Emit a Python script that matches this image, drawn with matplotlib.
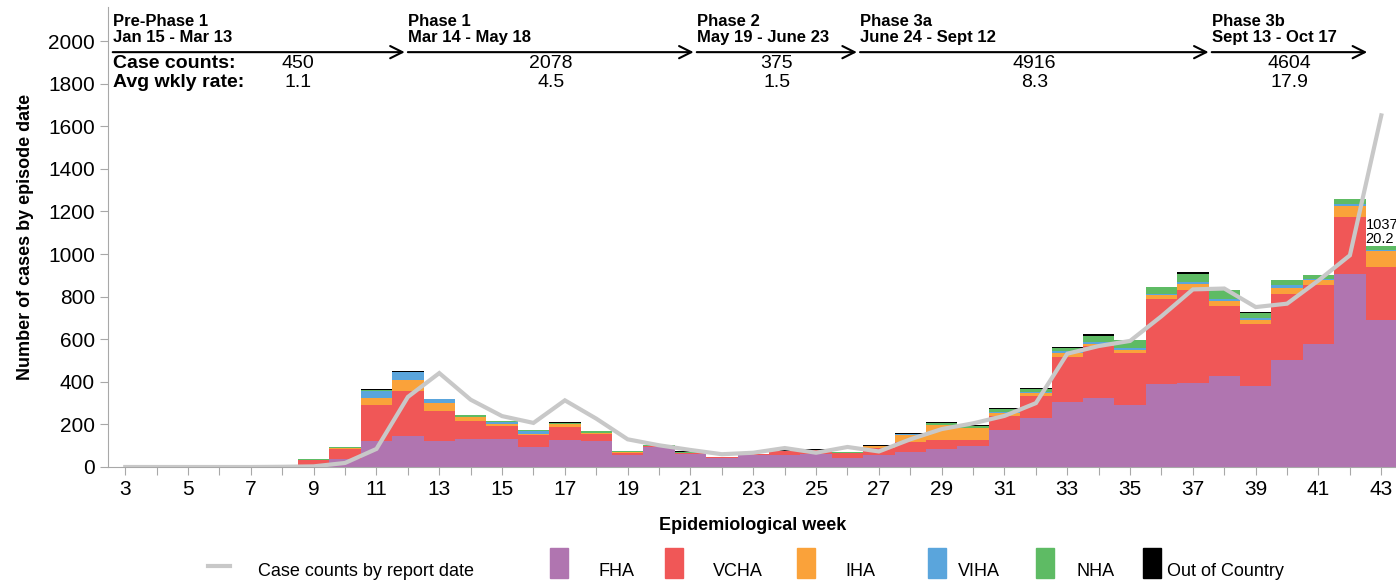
import matplotlib
matplotlib.use("Agg")
import matplotlib.pyplot as plt
from matplotlib.patches import Rectangle
from matplotlib.lines import Line2D
import numpy as np

# epidemiological weeks 3..43
weeks = list(range(3, 44))

fha = [1, 0, 1, 2, 2, 3, 8, 38, 122, 147, 121, 130, 130, 92, 125, 124, 55, 94, 60, 43, 56,
       58, 59, 44, 55, 72, 83, 99, 172, 230, 305, 322, 290, 388, 394, 426, 382, 504, 579, 908, 690]
vcha = [0, 0, 0, 0, 1, 1, 24, 47, 168, 208, 142, 85, 61, 58, 63, 31, 13, 3, 6, 4, 3,
        16, 19, 22, 36, 44, 42, 27, 69, 105, 211, 244, 247, 399, 435, 330, 288, 310, 277, 266, 250]
iha = [0, 0, 0, 0, 0, 0, 2, 2, 34, 55, 38, 18, 12, 6, 12, 6, 2, 1, 1, 0, 1,
       1, 2, 1, 8, 34, 70, 56, 14, 13, 20, 13, 11, 23, 28, 22, 22, 27, 20, 52, 72]
viha = [0, 0, 0, 0, 0, 0, 1, 4, 31, 34, 16, 4, 6, 15, 4, 1, 0, 1, 0, 0, 0,
        1, 0, 0, 0, 3, 2, 2, 5, 2, 11, 6, 11, 3, 11, 9, 8, 13, 6, 8, 6]
nha = [0, 0, 0, 0, 0, 0, 1, 3, 8, 3, 3, 6, 6, 4, 4, 6, 4, 3, 3, 0, 2,
       1, 1, 2, 1, 4, 8, 8, 11, 16, 11, 30, 36, 31, 39, 42, 25, 23, 20, 23, 19]
ooc = [0, 0, 0, 0, 0, 0, 0, 0, 1, 6, 1, 1, 1, 1, 4, 1, 0, 1, 4, 0, 1,
       4, 4, 1, 5, 1, 5, 5, 5, 6, 6, 8, 1, 1, 8, 1, 1, 1, 1, 1, 1]

# case counts by report date
report = [0, 0, 0, 0, 0, 1, 3, 19, 85, 329, 441, 316, 239, 207, 313, 227, 130, 102, 80, 60, 67,
          89, 67, 94, 73, 130, 178, 205, 240, 300, 532, 568, 592, 708, 834, 838, 751, 767, 876, 994, 1651]

regions = ["FHA", "VCHA", "IHA", "VIHA", "NHA", "Out of Country"]
colors = ["#B075B0", "#F05757", "#FAA23A", "#5AA5DC", "#5EBB64", "#000000"]

phase_names = ["Pre-Phase 1", "Phase 1", "Phase 2", "Phase 3a", "Phase 3b"]
phase_dates = ["Jan 15 - Mar 13", "Mar 14 - May 18", "May 19 - June 23",
               "June 24 - Sept 12", "Sept 13 - Oct 17"]
phase_counts = ["450", "2078", "375", "4916", "4604"]
phase_rates = ["1.1", "4.5", "1.5", "8.3", "17.9"]
phase_start = [2.6, 12.0, 21.2, 26.4, 37.6]
phase_end = [11.9, 21.1, 26.3, 37.5, 42.55]

last_count = "1037"
last_rate = "20.2"

NARROW = ["Liberation Sans Narrow", "Liberation Sans", "DejaVu Sans"]
REG = ["Liberation Sans", "DejaVu Sans"]

W, H = 1396, 582
fig = plt.figure(figsize=(W / 100, H / 100), dpi=100)
ax = fig.add_axes([108 / W, 115 / H, 1289 / W, 460 / H])

bottom = np.zeros(len(weeks))
for vals, col in zip([fha, vcha, iha, viha, nha, ooc], colors):
    ax.bar(weeks, vals, width=1.0, bottom=bottom, color=col, linewidth=0)
    bottom += np.array(vals)

ax.plot(weeks, report, color="#C8C8C8", lw=3, solid_joinstyle="miter", zorder=5)

ax.set_xlim(2.45, 43.5)
ax.set_ylim(0, 2160)
ax.set_yticks(range(0, 2001, 200))
ax.set_xticks(weeks)
ax.set_xticklabels([str(w) if w % 2 == 1 else "" for w in weeks])
for s in ["top", "right"]:
    ax.spines[s].set_visible(False)
for s in ["left", "bottom"]:
    ax.spines[s].set_color("#A8A8A8")
ax.tick_params(colors="#A8A8A8", length=6, labelcolor="black", labelsize=15)
for lab in ax.get_xticklabels() + ax.get_yticklabels():
    lab.set_family(NARROW)

ax.set_ylabel("Number of cases by episode date", fontsize=13, fontweight="bold",
              family=REG, labelpad=10)
ax.set_xlabel("Epidemiological week", fontsize=13, fontweight="bold", family=REG, labelpad=13)

# phase arrows and summaries
for i in range(len(phase_names)):
    x0, x1 = phase_start[i], phase_end[i]
    ax.annotate("", xy=(x1, 1948), xytext=(x0, 1948),
                arrowprops=dict(arrowstyle="->", lw=1.5, color="black",
                                shrinkA=0, shrinkB=0, mutation_scale=22),
                annotation_clip=False)
    ax.text(x0, 1980, phase_names[i] + "\n" + phase_dates[i], fontsize=12, fontweight="bold",
            family=NARROW, va="bottom", ha="left", linespacing=1.15)
    xc = 8.5 if i == 0 else (x0 + x1) / 2
    ax.text(xc, 1894, phase_counts[i], fontsize=14, family=NARROW, ha="center", va="center")
    ax.text(xc, 1805, phase_rates[i], fontsize=14, family=NARROW, ha="center", va="center")

ax.text(2.6, 1894, "Case counts:", fontsize=14, fontweight="bold", family=NARROW, va="center")
ax.text(2.6, 1805, "Avg wkly rate:", fontsize=14, fontweight="bold", family=NARROW, va="center")

ax.text(42.5, 1138, last_count, fontsize=10.5, family=REG, va="center", ha="left", clip_on=False)
ax.text(42.5, 1070, last_rate, fontsize=10.5, family=REG, va="center", ha="left", clip_on=False)

# legend drawn along the bottom
fig.add_artist(Line2D([208 / W, 230 / W], [1 - 566 / H, 1 - 566 / H], color="#C8C8C8", lw=3))
fig.text(258 / W, 1 - 572 / H, "Case counts by report date", fontsize=13, family=REG, va="center")
patch_x = [550, 665, 797, 928, 1036, 1143]
text_x = [598, 713, 845, 958, 1077, 1167]
for px, tx, name, col in zip(patch_x, text_x, regions, colors):
    fig.add_artist(Rectangle((px / W, 1 - 578 / H), 18 / W, 30 / H, color=col,
                             transform=fig.transFigure))
    fig.text(tx / W, 1 - 572 / H, name, fontsize=13, family=REG, va="center")

fig.savefig("out.png", dpi=100)
